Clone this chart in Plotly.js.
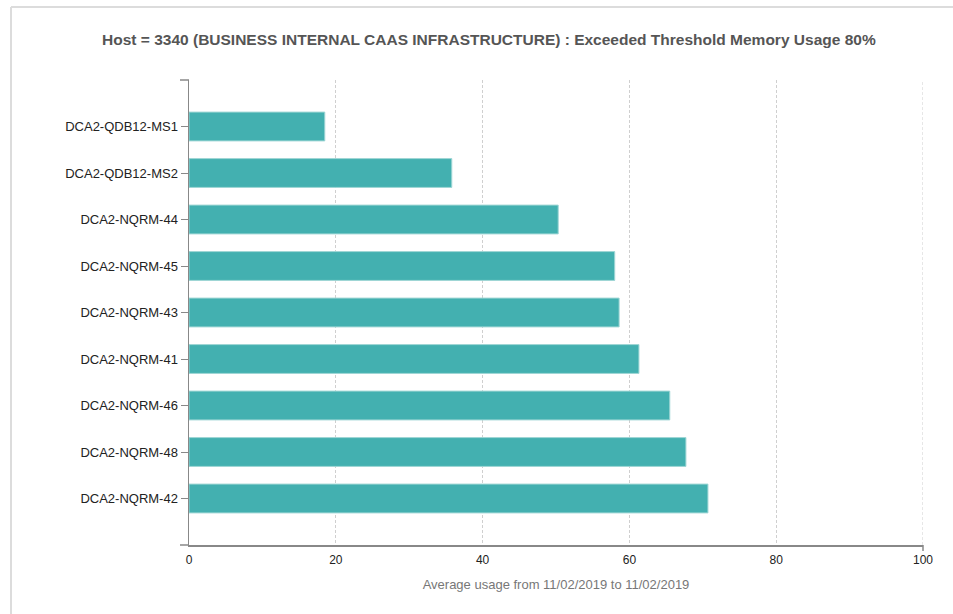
<!DOCTYPE html>
<html><head><meta charset="utf-8">
<script src="https://cdn.plot.ly/plotly-3.0.1.min.js"></script>
<style>html,body{margin:0;padding:0;background:#fff}#chart{width:953px;height:614px}</style>
</head><body><div id="chart"></div>
<script>
const hosts = ["DCA2-QDB12-MS1","DCA2-QDB12-MS2","DCA2-NQRM-44","DCA2-NQRM-45","DCA2-NQRM-43","DCA2-NQRM-41","DCA2-NQRM-46","DCA2-NQRM-48","DCA2-NQRM-42"];
const usage = [18.5, 35.8, 50.3, 58.0, 58.6, 61.3, 65.5, 67.7, 70.7];
const xTicks = [0, 20, 40, 60, 80, 100];
const titleText = "Host = 3340 (BUSINESS INTERNAL CAAS INFRASTRUCTURE) : Exceeded Threshold Memory Usage 80%";
const xTitle = "Average usage from 11/02/2019 to 11/02/2019";

const xMax = xTicks[xTicks.length - 1];

const trace = {
  type: 'bar', orientation: 'h',
  x: usage, y: hosts.map((h, i) => i),
  width: 0.62,
  marker: {color: '#43b0b0', line: {color: '#9fd6d5', width: 1}},
  hoverinfo: 'x+text', text: hosts, textposition: 'none'
};

const layout = {
  width: 953, height: 614,
  margin: {l: 189, r: 30, t: 80, b: 69},
  paper_bgcolor: '#fff', plot_bgcolor: '#fff',
  font: {family: 'Liberation Sans, Arial, sans-serif', color: '#222', size: 12},
  title: {text: titleText, x: 0.513, xanchor: 'center', y: 0.935, yanchor: 'middle',
          font: {size: 15.5, color: '#555', weight: 'bold'}},
  xaxis: {
    range: [0, xMax], tickvals: xTicks, ticktext: xTicks.map(String),
    showgrid: true, gridcolor: '#cfcfcf', griddash: '3px,2px', gridwidth: 1,
    zeroline: false, showline: true, linecolor: '#888', linewidth: 1.5,
    ticks: '', ticklabelstandoff: 3, tickfont: {size: 12, color: '#222'},
    title: {text: xTitle, font: {size: 13, color: '#777'}, standoff: 14},
    fixedrange: true
  },
  yaxis: {
    range: [9, -1], tickvals: hosts.map((h, i) => i), ticktext: hosts,
    showgrid: false, zeroline: false, showline: true, linecolor: '#888', linewidth: 1.5,
    ticks: 'outside', ticklen: 7, tickcolor: '#888', tickwidth: 1,
    tickfont: {size: 13, color: '#222'}, fixedrange: true
  },
  shapes: [
    {type: 'line', xref: 'x', yref: 'paper', x0: xMax, x1: xMax, y0: 0, y1: 1,
     line: {color: '#cfcfcf', width: 1, dash: '3px,2px'}, layer: 'below'},
    {type: 'line', xref: 'paper', yref: 'paper', xsizemode: 'pixel', xanchor: 0,
     x0: -9, x1: 0, y0: 1, y1: 1, line: {color: '#888', width: 1.5}},
    {type: 'line', xref: 'paper', yref: 'paper', xsizemode: 'pixel', xanchor: 0,
     x0: -9, x1: 0, y0: 0, y1: 0, line: {color: '#888', width: 1.5}},
    {type: 'line', xref: 'paper', yref: 'paper', ysizemode: 'pixel', yanchor: 0,
     x0: 1, x1: 1, y0: 0, y1: -6, line: {color: '#888', width: 1.5}},
    {type: 'line', xref: 'paper', yref: 'paper', x0: -0.2425, x1: 1.05, y0: 1.157, y1: 1.157,
     line: {color: '#dcdcdc', width: 2}},
    {type: 'line', xref: 'paper', yref: 'paper', x0: -0.2425, x1: -0.2425, y0: -0.15, y1: 1.157,
     line: {color: '#dcdcdc', width: 2}}
  ],
  showlegend: false
};

Plotly.newPlot('chart', [trace], layout, {displayModeBar: false, staticPlot: true});
</script></body></html>
